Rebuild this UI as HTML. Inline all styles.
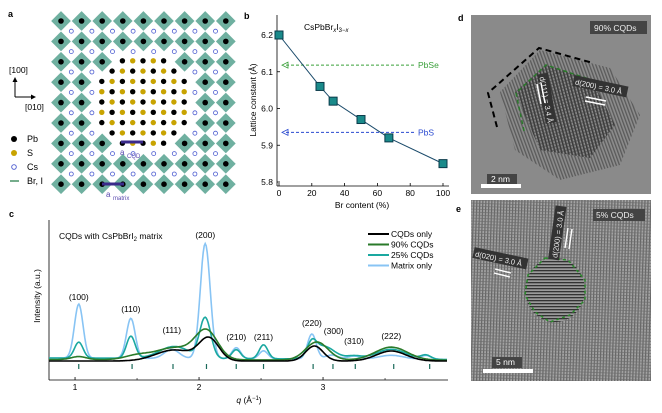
<!DOCTYPE html>
<html><head><meta charset="utf-8">
<style>
body{margin:0;background:#fff;width:662px;height:408px;overflow:hidden;font-family:"Liberation Sans",sans-serif;}
svg text{font-family:"Liberation Sans",sans-serif;}
</style></head>
<body>
<svg id="fig" width="662" height="408" viewBox="0 0 662 408">
<defs>
<pattern id="latD" width="3.2" height="3.2" patternUnits="userSpaceOnUse" patternTransform="rotate(-15)">
<rect width="3.2" height="3.2" fill="#8a8a8a"/><rect width="1.6" height="3.2" fill="#3a3a3a"/><rect width="3.2" height="1.2" fill="#444" opacity="0.6"/></pattern>
<pattern id="latD2" width="3" height="3" patternUnits="userSpaceOnUse" patternTransform="rotate(-20)">
<rect width="3" height="3" fill="#8c8c8c"/><rect width="1.3" height="3" fill="#555"/></pattern>
<pattern id="latE" width="3" height="3" patternUnits="userSpaceOnUse" patternTransform="rotate(2)">
<rect width="3" height="3" fill="#a8a8a8"/><rect width="1.2" height="3" fill="#505050"/><rect width="3" height="1" fill="#5a5a5a" opacity="0.7"/></pattern>
<pattern id="latE2" width="3" height="3" patternUnits="userSpaceOnUse">
<rect width="3" height="3" fill="#9a9a9a"/><rect width="3" height="1.3" fill="#333"/></pattern>
</defs>

<g id="panelA">
<text x="8" y="17" font-size="9" font-weight="bold">a</text>
<g id="latticeG"></g>
<g>
<text x="9" y="73" font-size="8.5">[100]</text>
<line x1="15" y1="97" x2="15" y2="80" stroke="#000" stroke-width="1"/>
<path d="M12.5,82 L15,77 L17.5,82Z" fill="#000"/>
<line x1="15" y1="97" x2="33" y2="97" stroke="#000" stroke-width="1"/>
<path d="M31,94.5 L36,97 L31,99.5Z" fill="#000"/>
<text x="25" y="110" font-size="8.5">[010]</text>
</g>
<g font-size="9">
<circle cx="14" cy="139" r="3" fill="#000"/><text x="27" y="142">Pb</text>
<circle cx="14" cy="153" r="3" fill="#c8a300"/><text x="27" y="156">S</text>
<circle cx="14" cy="167" r="2.3" fill="none" stroke="#4a5ad0" stroke-width="0.9"/><text x="27" y="170">Cs</text>
<line x1="10" y1="181" x2="19" y2="181" stroke="#3a8a5a" stroke-width="1.4"/><text x="27" y="184">Br, I</text>
</g>
<g>
<line x1="121" y1="142" x2="143" y2="142" stroke="#3a2a8a" stroke-width="3"/>
<text x="120" y="155" font-size="8" fill="#5a4ab0">a</text><text x="127" y="158" font-size="6" fill="#5a4ab0">CQD</text>
<line x1="102" y1="184" x2="124" y2="184" stroke="#3a2a8a" stroke-width="3"/>
<text x="106" y="197" font-size="8" fill="#5a4ab0">a</text><text x="113" y="200" font-size="6" fill="#5a4ab0">matrix</text>
</g>
</g>

<g id="panelB">
<text x="244" y="19" font-size="9" font-weight="bold">b</text>
<g id="bAxes"></g><g id="bMarks"></g>
</g>

<g id="panelC">
<text x="9" y="217" font-size="9" font-weight="bold">c</text>
<g id="cAxes"></g><g id="cMarks"></g>
</g>

<g id="panelD">
<text x="458" y="21" font-size="9" font-weight="bold">d</text>
<rect x="471" y="15" width="180" height="179" fill="#8a8a8a"/>
<polygon points="500,92 540,50 610,68 640,115 620,165 560,180 515,150" fill="url(#latD2)" opacity="0.9"/>
<polygon points="515,92 546,65 592,80 615,125 590,158 540,150" fill="url(#latD)"/>
<path d="M497,127 L488,93 L539,48 L593,63" fill="none" stroke="#000" stroke-width="2" stroke-dasharray="6,4"/>
<path d="M524,131 L516,93 L546,65 L592,80" fill="none" stroke="#2a7a2a" stroke-width="1.5" stroke-dasharray="4,3"/>
<rect x="590" y="21" width="57" height="13" fill="#444"/><text x="594" y="31" font-size="8.5" fill="#eee">90% CQDs</text>
<g transform="translate(541,74) rotate(80)"><rect x="0" y="-7" width="50" height="11" fill="#333"/><text x="3" y="2" font-size="7.5" fill="#eee">d(111) = 3.4 Å</text></g>
<g transform="translate(573,83) rotate(12)"><rect x="0" y="-8" width="55" height="11" fill="#333"/><text x="2" y="1" font-size="7.5" fill="#eee">d(200) = 3.0 Å</text></g>
<line x1="537" y1="84" x2="541" y2="104" stroke="#fff" stroke-width="1.5"/><line x1="541" y1="83" x2="545" y2="103" stroke="#fff" stroke-width="1.5"/>
<line x1="586" y1="97" x2="606" y2="101" stroke="#fff" stroke-width="1.5"/><line x1="585" y1="101" x2="605" y2="105" stroke="#fff" stroke-width="1.5"/>
<rect x="487" y="174" width="30" height="11" fill="#444"/><text x="491" y="182" font-size="8.5" fill="#fff">2 nm</text>
<rect x="481" y="184" width="40" height="4" fill="#fff"/>
</g>

<g id="panelE">
<text x="456" y="212" font-size="9" font-weight="bold">e</text>
<rect x="471" y="200" width="180" height="181" fill="url(#latE)"/>
<rect x="471" y="200" width="180" height="181" fill="#999" opacity="0.3"/>
<ellipse cx="555" cy="290" rx="30" ry="32" fill="url(#latE2)"/>
<path d="M545,258 L568,260 L585,280 L585,300 L570,315 L550,322 L535,312 L525,295 L528,275 Z" fill="none" stroke="#2a8a2a" stroke-width="1.5" stroke-dasharray="3,3"/>
<rect x="593" y="209" width="52" height="12" fill="#444"/><text x="596" y="218" font-size="8.5" fill="#eee">5% CQDs</text>
<g transform="translate(556,260) rotate(-82)"><rect x="0" y="-8" width="54" height="11" fill="#333"/><text x="2" y="1" font-size="7.5" fill="#eee">d(200) = 3.0 Å</text></g>
<g transform="translate(473,255) rotate(12)"><rect x="0" y="-8" width="55" height="11" fill="#333"/><text x="2" y="1" font-size="7.5" fill="#eee">d(020) = 3.0 Å</text></g>
<line x1="568" y1="228" x2="565" y2="248" stroke="#fff" stroke-width="1.4"/><line x1="572" y1="229" x2="569" y2="249" stroke="#fff" stroke-width="1.4"/>
<line x1="495" y1="269" x2="511" y2="273" stroke="#fff" stroke-width="1.4"/><line x1="494" y1="273" x2="510" y2="277" stroke="#fff" stroke-width="1.4"/>
<rect x="492" y="357" width="30" height="11" fill="#444"/><text x="496" y="365" font-size="8.5" fill="#fff">5 nm</text>
<rect x="483" y="369" width="50" height="4" fill="#fff"/>
</g>
</svg>

<script>
// ---- panel b data ----
const brContent = [0, 25, 33, 50, 67, 100];
const latticeConst = [6.20, 6.06, 6.02, 5.97, 5.92, 5.85];
const bXTicks = [0, 20, 40, 60, 80, 100];
const bYTicks = [5.8, 5.9, 6.0, 6.1, 6.2];
const refNames = ["PbSe", "PbS"];
const refValues = [6.118, 5.935];
const refColors = ["#3aa03a", "#2a4ad0"];

// ---- panel c data ----
const qTicks = [1, 2, 3];
const seriesNames = ["CQDs only", "90% CQDs", "25% CQDs", "Matrix only"];
const seriesColors = ["#000000", "#2a7a2a", "#1aa8a0", "#88c4f4"];
const matrixCenters = [1.03, 1.45, 1.78, 2.05, 2.30, 2.52, 2.91, 3.07, 3.25, 3.55, 3.83];
const matrixWidths = [0.035, 0.035, 0.06, 0.04, 0.035, 0.035, 0.035, 0.05, 0.05, 0.1, 0.04];
const matrixHeights = [54, 40, 9, 115, 11, 8, 25, 4, 3, 4, 4];
const q25Centers = [1.03, 1.45, 1.80, 2.05, 2.30, 2.52, 2.91, 3.00, 3.25, 3.55, 3.83];
const q25Widths = [0.035, 0.035, 0.12, 0.045, 0.035, 0.035, 0.035, 0.09, 0.06, 0.12, 0.04];
const q25Heights = [16, 22, 12, 40, 9, 14, 12, 13, 3, 10, 4];
const q90Centers = [1.03, 1.50, 1.80, 2.06, 2.95, 3.55];
const q90Widths = [0.06, 0.10, 0.15, 0.09, 0.09, 0.13];
const q90Heights = [3, 4, 12, 28, 18, 13];
const cqdCenters = [1.80, 2.08, 2.93, 3.55];
const cqdWidths = [0.15, 0.08, 0.07, 0.12];
const cqdHeights = [11, 22, 15, 10];
const hklLabels = ["(100)", "(110)", "(111)", "(200)", "(210)", "(211)", "(220)", "(300)", "(310)", "(222)"];
const hklPositions = [1.03, 1.45, 1.78, 2.05, 2.30, 2.52, 2.91, 3.07, 3.25, 3.55];
const refTickQ = [1.03, 1.46, 1.79, 2.06, 2.30, 2.52, 2.92, 3.08, 3.26, 3.57, 3.86];

const NS = "http://www.w3.org/2000/svg";
function mk(tag, attrs, parent) {
  const e = document.createElementNS(NS, tag);
  for (const k in attrs) e.setAttribute(k, attrs[k]);
  parent.appendChild(e);
  return e;
}

(function () {
  const g = document.getElementById('latticeG');
  const sx = 20.6, sy = 20.4, x0 = 61, y0 = 21, cx = 143, cy = 102;
  for (let r = 0; r < 9; r++) for (let c = 0; c < 9; c++) {
    const x = x0 + c * sx, y = y0 + r * sy;
    const d = Math.hypot(x - cx, y - cy);
    if (d < 50) continue;
    const p = mk('polygon', { points: `${x},${y - 10.3} ${x + 10.3},${y} ${x},${y + 10.3} ${x - 10.3},${y}`, fill: '#6fb0a0', stroke: '#fff', 'stroke-width': 0.6 }, g);
    
    
    mk('circle', { cx: x, cy: y, r: 2.8, fill: '#000' }, g);
  }
  for (let r = 0; r < 8; r++) for (let c = 0; c < 8; c++) {
    const x = x0 + sx / 2 + c * sx, y = y0 + sy / 2 + r * sy;
    if (Math.hypot(x - cx, y - cy) < 48) continue;
    mk('circle', { cx: x, cy: y, r: 2, fill: 'none', stroke: '#4a5ad0', 'stroke-width': 0.8 }, g);
  }
  const s = 10.3;
  for (let i = -4; i <= 4; i++) for (let j = -4; j <= 4; j++) {
    if (Math.abs(i) + Math.abs(j) > 6) continue;
    if (Math.abs(i) === 4 && Math.abs(j) > 2) continue;
    if (Math.abs(j) === 4 && Math.abs(i) > 2) continue;
    const dot = mk('circle', { cx: cx + j * s, cy: cy + i * s, r: 2.7, fill: ((i + j) & 1) ? '#c8a300' : '#000' }, g);
    
    
  }
})();

(function () {
  const ax = document.getElementById('bAxes'), mg = document.getElementById('bMarks');
  const X = v => 279 + (v - 0) * (443 - 279) / 100;
  const Y = v => 182 - (v - 5.8) * (182 - 35) / 0.4;
  mk('line', { x1: 277, y1: 15, x2: 277, y2: 186, stroke: '#000', 'stroke-width': 0.8 }, ax);
  mk('line', { x1: 277, y1: 186, x2: 449, y2: 186, stroke: '#000', 'stroke-width': 0.8 }, ax);
  bXTicks.forEach(t => {
    mk('line', { x1: X(t), y1: 186, x2: X(t), y2: 183, stroke: '#000', 'stroke-width': 0.8 }, ax);
    const tx = mk('text', { x: X(t), y: 196, 'font-size': 8.5, 'text-anchor': 'middle' }, ax); tx.textContent = t;
  });
  bYTicks.forEach(t => {
    mk('line', { x1: 277, y1: Y(t), x2: 280, y2: Y(t), stroke: '#000', 'stroke-width': 0.8 }, ax);
    const tx = mk('text', { x: 273, y: Y(t) + 3, 'font-size': 8.5, 'text-anchor': 'end' }, ax); tx.textContent = t.toFixed(1);
  });
  const yl = mk('text', { x: 0, y: 0, 'font-size': 8.5, 'text-anchor': 'middle', transform: 'translate(256,100) rotate(-90)' }, ax);
  yl.textContent = 'Lattice constant (Å)';
   
  const xl = mk('text', { x: 362, y: 208, 'font-size': 8.5, 'text-anchor': 'middle' }, ax);
  xl.textContent = 'Br content (%)';
   
  const tt = mk('text', { x: 304, y: 30, 'font-size': 8.5 }, ax);
  tt.innerHTML = 'CsPbBr<tspan font-size="6" dy="2" font-style="italic">x</tspan><tspan dy="-2">I</tspan><tspan font-size="6" dy="2">3−<tspan font-style="italic">x</tspan></tspan>';
  refValues.forEach((v, i) => {
    const l = mk('line', { x1: 286, y1: Y(v), x2: 415, y2: Y(v), stroke: refColors[i], 'stroke-width': 1, 'stroke-dasharray': '3,2' }, mg);
    
    
    mk('path', { d: `M288,${Y(v) - 3} L282,${Y(v)} L288,${Y(v) + 3}Z`, fill: 'none', stroke: refColors[i], 'stroke-width': 0.8 }, mg);
    const t = mk('text', { x: 418, y: Y(v) + 3, 'font-size': 8.5, fill: refColors[i] }, mg); t.textContent = refNames[i];
  });
  const pts = brContent.map((b, i) => X(b) + ',' + Y(latticeConst[i])).join(' ');
  const pl = mk('polyline', { points: pts, fill: 'none', stroke: '#1a4a6a', 'stroke-width': 1 }, mg);
   
  brContent.forEach((b, i) => {
    const r = mk('rect', { x: X(b) - 4, y: Y(latticeConst[i]) - 4, width: 8, height: 8, fill: '#1a8a8a', stroke: '#0a3a4a', 'stroke-width': 1 }, mg);
     
  });
})();

(function () {
  const ax = document.getElementById('cAxes'), mg = document.getElementById('cMarks');
  const qMin = 0.79, qMax = 4.0;
  const X = q => 49 + (q - qMin) * 124;
  const Y = v => 361 - v;
  mk('line', { x1: 49, y1: 220, x2: 49, y2: 380, stroke: '#000', 'stroke-width': 0.8 }, ax);
  mk('line', { x1: 49, y1: 380, x2: 448, y2: 380, stroke: '#000', 'stroke-width': 0.8 }, ax);
  qTicks.forEach(t => {
    mk('line', { x1: X(t), y1: 380, x2: X(t), y2: 377, stroke: '#000', 'stroke-width': 0.8 }, ax);
    const tx = mk('text', { x: X(t), y: 390, 'font-size': 8.5, 'text-anchor': 'middle' }, ax); tx.textContent = t;
  });
  [1.5, 2.5, 3.5].forEach(t => mk('line', { x1: X(t), y1: 380, x2: X(t), y2: 378, stroke: '#000', 'stroke-width': 0.6 }, ax));
  const xl = mk('text', { x: 249, y: 403, 'font-size': 8.5, 'text-anchor': 'middle' }, ax);
  xl.innerHTML = '<tspan font-style="italic">q</tspan> (Å<tspan font-size="6" dy="-3">−1</tspan><tspan dy="3">)</tspan>';
   
  const yl = mk('text', { x: 0, y: 0, 'font-size': 8.5, 'text-anchor': 'middle', transform: 'translate(40,296) rotate(-90)' }, ax);
  yl.textContent = 'Intensity (a.u.)';
   
  const tt = mk('text', { x: 59, y: 239, 'font-size': 8.5 }, ax);
  tt.innerHTML = 'CQDs with CsPbBrI<tspan font-size="6" dy="2">2</tspan><tspan dy="-2"> matrix</tspan>';
  refTickQ.forEach(q => mk('line', { x1: X(q), y1: 364, x2: X(q), y2: 369, stroke: '#1a6a5a', 'stroke-width': 1.2 }, ax));
  hklLabels.forEach((h, i) => {
    const dy = [300, 312, 333, 238, 340, 340, 326, 334, 344, 339][i];
    const t = mk('text', { x: X(hklPositions[i]) + (i === 7 ? 2 : 0), y: dy, 'font-size': 8.5, 'text-anchor': 'middle' }, ax);
    t.textContent = h;
     
  });
  const sets = [
    [cqdCenters, cqdWidths, cqdHeights, 0],
    [q90Centers, q90Widths, q90Heights, 1.5],
    [q25Centers, q25Widths, q25Heights, 3],
    [matrixCenters, matrixWidths, matrixHeights, 3]
  ];
  const order = [3, 2, 1, 0];
  order.forEach(si => {
    const [c, w, h, base] = sets[si];
    let d = '';
    for (let k = 0; k <= 400; k++) {
      const q = qMin + (qMax - qMin) * k / 400;
      let v = base * (1 - (q - qMin) / (qMax - qMin) * 0.5);
      c.forEach((cc, j) => { v += h[j] * Math.exp(-0.5 * ((q - cc) / w[j]) ** 2); });
      d += (k ? 'L' : 'M') + X(q).toFixed(1) + ',' + Y(v).toFixed(1);
    }
    const p = mk('path', { d, fill: 'none', stroke: seriesColors[si], 'stroke-width': 1.6 }, mg);
    
    
  });
  seriesNames.forEach((n, i) => {
    const y = 234 + i * 10.5;
    const l = mk('line', { x1: 368, y1: y, x2: 389, y2: y, stroke: seriesColors[i], 'stroke-width': 2 }, mg);
     
    const t = mk('text', { x: 391, y: y + 3, 'font-size': 8.5 }, mg); t.textContent = n;
  });
})();
</script>
</body></html>
